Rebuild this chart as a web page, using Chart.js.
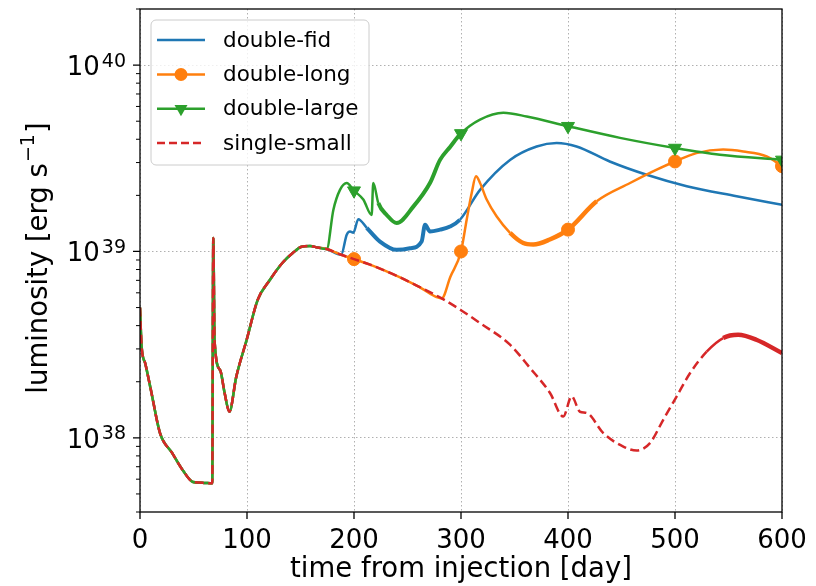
<!DOCTYPE html>
<html>
<head>
<meta charset="utf-8">
<script src="https://cdn.jsdelivr.net/npm/chart.js@4.4.1/dist/chart.umd.min.js"></script>
<style>
  html, body { margin: 0; padding: 0; background: #fff; }
  #wrap { width: 816px; height: 586px; }
</style>
</head>
<body>
<div id="wrap"><canvas id="myChart" width="816" height="586"></canvas></div>
<script>
const FONT = "'DejaVu Sans', sans-serif";

// ---- data (day, erg/s) ----
// part shared by every run
const earlyDays = [0, 1.5, 5, 10, 18.7, 30, 40, 49.5, 60, 67.5, 68.5, 69.7, 75, 79, 83.5, 90, 99.7, 110, 121.5, 133, 143, 151, 158.9, 166, 174.5];
const earlyLum = [5.0e38, 3.1e38, 2.5e38, 1.83e38, 1.06e38, 8.3e37, 6.7e37, 5.8e37, 5.73e37, 5.7e37, 1.18e39, 3.3e38, 2.3e38, 1.75e38, 1.38e38, 2.13e38, 3.36e38, 5.5e38, 7.05e38, 8.67e38, 9.84e38, 1.06e39, 1.07e39, 1.05e39, 1.03e39];
// decline shared by single-small and double-long
const decayDays = [188, 200, 215, 240, 260, 282];
const decayLum = [9.6e38, 9.1e38, 8.5e38, 7.4e38, 6.5e38, 5.6e38];
// single-small tail
const singleDays = [300, 317.8, 345.8, 364.5, 383.2, 395.6, 403.4, 411.2, 417.5, 433, 451.7, 464.2, 476.6, 489, 501.6, 514, 529.6, 545, 559, 576, 600];
const singleLum = [4.84e38, 4.13e38, 3.16e38, 2.37e38, 1.74e38, 1.3e38, 1.67e38, 1.38e38, 1.36e38, 1.06e38, 8.97e37, 8.55e37, 9.37e37, 1.25e38, 1.67e38, 2.22e38, 2.9e38, 3.43e38, 3.57e38, 3.36e38, 2.85e38];
// double-long tail
const longDays = [290, 300, 305.3, 310, 314, 317.8, 324, 333.4, 345.8, 358.2, 367.6, 383, 400, 426.8, 458, 482.9, 500, 520, 545, 563.8, 585.7, 600];
const longLum = [7.3e38, 1.0e39, 1.48e39, 2.06e39, 2.53e39, 2.33e39, 1.9e39, 1.54e39, 1.26e39, 1.11e39, 1.09e39, 1.16e39, 1.31e39, 1.86e39, 2.33e39, 2.75e39, 3.04e39, 3.37e39, 3.52e39, 3.44e39, 3.24e39, 2.87e39];
// double-fid tail
const fidDays = [188, 193.2, 196.3, 199.4, 204, 211.9, 224.3, 240, 252.3, 263.2, 266.4, 271, 280.4, 289.7, 299, 317.8, 345.8, 370.7, 389.4, 408, 439, 473.5, 511, 557.6, 600];
const fidLum = [9.6e38, 1.23e39, 1.28e39, 1.26e39, 1.49e39, 1.34e39, 1.13e39, 1.02e39, 1.04e39, 1.13e39, 1.39e39, 1.28e39, 1.31e39, 1.36e39, 1.48e39, 2.14e39, 3.1e39, 3.66e39, 3.82e39, 3.66e39, 3.04e39, 2.58e39, 2.24e39, 1.98e39, 1.78e39];
// double-large tail
const largeDays = [180.7, 186.9, 193.2, 200, 208.7, 216.5, 218, 222.7, 230.6, 239.9, 255.4, 271, 280.4, 290, 300, 317.8, 339.6, 361.4, 400, 448.6, 500, 542, 600];
const largeLum = [1.67e39, 2.14e39, 2.33e39, 2.12e39, 1.9e39, 1.57e39, 2.33e39, 1.82e39, 1.57e39, 1.42e39, 1.74e39, 2.33e39, 3.1e39, 3.65e39, 4.3e39, 5.1e39, 5.55e39, 5.3e39, 4.7e39, 4.07e39, 3.59e39, 3.3e39, 3.1e39];

const markerDays = [200, 300, 400, 500, 600];
const xTicks = [0, 100, 200, 300, 400, 500, 600];
const yDecades = [1e38, 1e39, 1e40];
const yExponents = ['38', '39', '40'];
const seriesNames = ['double-fid', 'double-long', 'double-large', 'single-small'];
const seriesColors = ['#1f77b4', '#ff7f0e', '#2ca02c', '#d62728'];

// join pieces of day / luminosity arrays into points
function toPoints(dayParts, lumParts) {
    const pts = [];
    dayParts.forEach((days, i) => {
        days.forEach((d, j) => pts.push({ x: d, y: lumParts[i][j] }));
    });
    return pts;
}

// minor tick values for the log axis
const yMinor = [];
for (let e = 37; e <= 40; e++) {
    for (let k = 2; k <= 9; k++) {
        const v = k * Math.pow(10, e);
        if (v >= 4e37 && v <= 2e40) yMinor.push(v);
    }
}

const markerRadius = (r) => (ctx) => (ctx.raw && markerDays.includes(ctx.raw.x) ? r : 0);
const thick = (from, to, w) => (ctx) => (ctx.p0.parsed.x >= from && ctx.p1.parsed.x <= to ? w : undefined);

// frame, tick marks, tick labels, axis titles and legend in matplotlib style
const decor = {
    id: 'decor',
    afterDatasetsDraw(chart) {
        const { ctx, chartArea: a, scales: { x, y } } = chart;
        ctx.save();
        ctx.strokeStyle = '#000';
        ctx.lineWidth = 1.3;
        ctx.strokeRect(a.left, a.top, a.right - a.left, a.bottom - a.top);

        ctx.beginPath();
        xTicks.forEach(v => {
            const px = x.getPixelForValue(v);
            ctx.moveTo(px, a.bottom);
            ctx.lineTo(px, a.bottom + 7);
        });
        yDecades.forEach(v => {
            const py = y.getPixelForValue(v);
            ctx.moveTo(a.left, py);
            ctx.lineTo(a.left - 7, py);
        });
        ctx.stroke();
        ctx.lineWidth = 1;
        ctx.beginPath();
        yMinor.forEach(v => {
            const py = y.getPixelForValue(v);
            ctx.moveTo(a.left, py);
            ctx.lineTo(a.left - 4, py);
        });
        ctx.stroke();

        // y tick labels 10^n
        ctx.fillStyle = '#000';
        ctx.textBaseline = 'alphabetic';
        ctx.textAlign = 'right';
        yDecades.forEach((v, i) => {
            const py = y.getPixelForValue(v);
            ctx.font = '19px ' + FONT;
            ctx.fillText(yExponents[i], 126, py + 1.5);
            const ew = ctx.measureText(yExponents[i]).width;
            ctx.font = '26px ' + FONT;
            ctx.fillText('10', 126 - ew - 2, py + 10);
        });

        // x title
        ctx.textAlign = 'center';
        ctx.font = '27.5px ' + FONT;
        ctx.fillText('time from injection [day]', (a.left + a.right) / 2, 577);

        // y title with superscript
        ctx.save();
        ctx.translate(47, 258);
        ctx.rotate(-Math.PI / 2);
        ctx.textAlign = 'left';
        const mainFont = '27.5px ' + FONT, supFont = '19px ' + FONT;
        const p1 = 'luminosity [erg s', sup = '\u22121', p2 = ']';
        ctx.font = mainFont;
        const w1 = ctx.measureText(p1).width, w3 = ctx.measureText(p2).width;
        ctx.font = supFont;
        const w2 = ctx.measureText(sup).width;
        let tx = -(w1 + w2 + w3 + 2) / 2;
        ctx.font = mainFont;
        ctx.fillText(p1, tx, 0);
        tx += w1 + 1;
        ctx.font = supFont;
        ctx.fillText(sup, tx, -13);
        tx += w2 + 1;
        ctx.font = mainFont;
        ctx.fillText(p2, tx, 0);
        ctx.restore();

        // legend
        ctx.beginPath();
        ctx.roundRect(151, 20, 218, 145, 5);
        ctx.fillStyle = 'rgba(255,255,255,0.8)';
        ctx.fill();
        ctx.strokeStyle = '#cccccc';
        ctx.lineWidth = 1;
        ctx.stroke();
        const rows = [40, 74.5, 108.8, 143];
        rows.forEach((ry, i) => {
            ctx.strokeStyle = seriesColors[i];
            ctx.fillStyle = seriesColors[i];
            ctx.lineWidth = 2.5;
            ctx.setLineDash(i === 3 ? [8, 4] : []);
            ctx.beginPath();
            ctx.moveTo(157, ry);
            ctx.lineTo(205, ry);
            ctx.stroke();
            ctx.setLineDash([]);
            if (i === 1) {
                ctx.beginPath();
                ctx.arc(181, ry, 6.5, 0, Math.PI * 2);
                ctx.fill();
            } else if (i === 2) {
                const r = 7.5;
                ctx.beginPath();
                ctx.moveTo(181, ry + r);
                ctx.lineTo(181 - r * 0.866, ry - r * 0.5);
                ctx.lineTo(181 + r * 0.866, ry - r * 0.5);
                ctx.closePath();
                ctx.fill();
            }
            ctx.fillStyle = '#000';
            ctx.font = '21.5px ' + FONT;
            ctx.textAlign = 'left';
            ctx.textBaseline = 'middle';
            ctx.fillText(seriesNames[i], 223, ry + 1);
        });
        ctx.restore();
    }
};

const ctx = document.getElementById('myChart').getContext('2d');
window.myChart = new Chart(ctx, {
    type: 'line',
    data: {
        datasets: [{
            label: seriesNames[0],
            data: toPoints([earlyDays, fidDays], [earlyLum, fidLum]),
            borderColor: seriesColors[0],
            borderWidth: 2.5,
            pointRadius: 0,
            segment: { borderWidth: thick(211, 300, 4) },
            order: 4
        }, {
            label: seriesNames[1],
            data: toPoints([earlyDays, decayDays, longDays], [earlyLum, decayLum, longLum]),
            borderColor: seriesColors[1],
            backgroundColor: seriesColors[1],
            borderWidth: 2.5,
            pointRadius: markerRadius(6.5),
            pointBackgroundColor: seriesColors[1],
            pointBorderColor: seriesColors[1],
            pointBorderWidth: 1,
            segment: { borderWidth: thick(345, 430, 4.5) },
            order: 3
        }, {
            label: seriesNames[2],
            data: toPoints([earlyDays, largeDays], [earlyLum, largeLum]),
            borderColor: seriesColors[2],
            backgroundColor: seriesColors[2],
            borderWidth: 2.5,
            pointStyle: 'triangle',
            pointRotation: 180,
            pointRadius: markerRadius(7.5),
            pointBackgroundColor: seriesColors[2],
            pointBorderColor: seriesColors[2],
            pointBorderWidth: 1,
            segment: { borderWidth: thick(222, 300, 4) },
            order: 2
        }, {
            label: seriesNames[3],
            data: toPoints([earlyDays, decayDays, singleDays], [earlyLum, decayLum, singleLum]),
            borderColor: seriesColors[3],
            borderWidth: 2.5,
            borderDash: [9, 4.5],
            pointRadius: 0,
            segment: {
                borderDash: (c) => (c.p0.parsed.x >= 522 ? [] : undefined),
                borderWidth: (c) => (c.p0.parsed.x >= 540 ? 4.5 : undefined)
            },
            order: 1
        }].map(d => Object.assign({ fill: false, cubicInterpolationMode: 'monotone', borderJoinStyle: 'round', clip: 0 }, d))
    },
    options: {
        responsive: false,
        animation: false,
        events: [],
        layout: { padding: { top: 9, right: 34, left: 0, bottom: 0 } },
        plugins: { legend: { display: false }, tooltip: { enabled: false } },
        scales: {
            x: {
                type: 'linear',
                min: 0,
                max: 600,
                afterBuildTicks: (scale) => { scale.ticks = xTicks.map(v => ({ value: v })); },
                afterFit: (scale) => { scale.height = 74; scale.paddingLeft = 0; scale.paddingRight = 0; },
                ticks: { color: '#000', padding: 14, font: { family: FONT, size: 26 }, maxRotation: 0 },
                grid: { color: '#b0b0b0', lineWidth: 1, drawTicks: false },
                border: { display: false, dash: [1.5, 2.5] }
            },
            y: {
                type: 'logarithmic',
                min: 4e37,
                max: 2e40,
                afterBuildTicks: (scale) => { scale.ticks = yDecades.map(v => ({ value: v })); },
                afterFit: (scale) => { scale.width = 140; },
                ticks: { display: false },
                grid: { color: '#b0b0b0', lineWidth: 1, drawTicks: false },
                border: { display: false, dash: [1.5, 2.5] }
            }
        }
    },
    plugins: [decor]
});
</script>
</body>
</html>
